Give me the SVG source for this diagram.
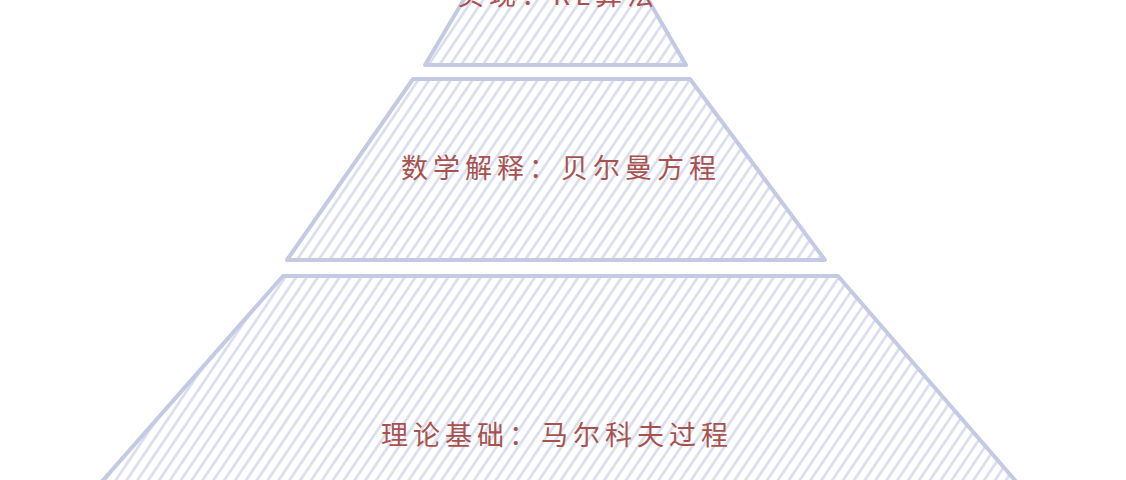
<svg xmlns="http://www.w3.org/2000/svg" width="1126" height="480" viewBox="0 0 1126 480">
<defs>
<pattern id="hatch" width="9" height="9" patternUnits="userSpaceOnUse" patternTransform="rotate(34)">
<line x1="4.5" y1="0" x2="4.5" y2="9" stroke="#d6daeb" stroke-width="2.4"/>
</pattern>
</defs>
<style>
.tier{fill:url(#hatch);stroke:#c5cae4;stroke-width:4;stroke-linejoin:round}
.lbl{font-family:"Noto Sans CJK SC","Noto Sans",sans-serif;font-size:27px;fill:#a8524f;text-anchor:middle;letter-spacing:5px}
</style>
<rect width="1126" height="480" fill="#ffffff"/>
<g id="tier-top">
<polygon class="tier" points="466,-4 646,-4 686,65 425,65"/>
<text class="lbl" x="558" y="5">实现：RL算法</text>
</g>
<g id="tier-middle">
<polygon class="tier" points="413,79 690,79 825,260 287,260"/>
<text class="lbl" x="561" y="178">数学解释：贝尔曼方程</text>
</g>
<g id="tier-bottom">
<polygon class="tier" points="283,276 838,276 1020,486 98,486"/>
<text class="lbl" x="557" y="445">理论基础：马尔科夫过程</text>
</g>
<g id="connectors"></g>
</svg>
